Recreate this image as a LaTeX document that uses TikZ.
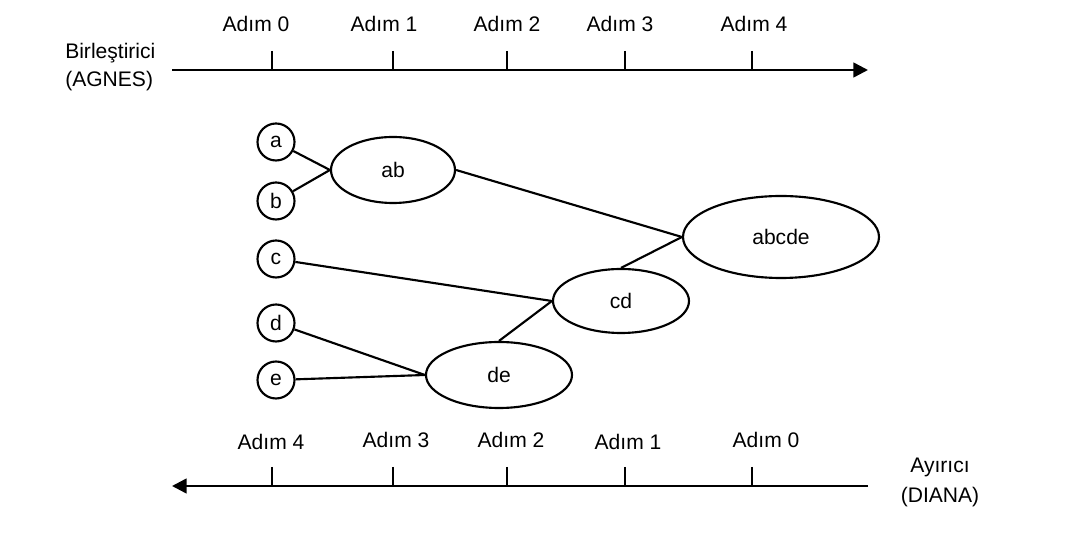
\documentclass[tikz,border=0pt]{standalone}
\usepackage{fontspec}
\setmainfont{Liberation Sans}
\usetikzlibrary{arrows.meta,shapes.geometric}

\begin{document}
\begin{tikzpicture}[x=0.75pt,y=-0.75pt,
  font=\fontsize{15.8}{19}\selectfont,
  leaf/.style={circle,draw,line width=1.6pt,minimum size=27.75pt,inner sep=0pt},
  cluster/.style={ellipse,draw,line width=1.6pt,inner sep=0pt},
  link/.style={line width=1.6pt},
  axisline/.style={line width=1.9pt},
  tickmark/.style={line width=1.3pt},
  steplabel/.style={inner sep=0pt,anchor=center}]

\useasboundingbox (0,0) rectangle (1075,548);

% agglomerative time line (AGNES)
\coordinate (agS) at (172,70);
\coordinate (agE) at (868,70);
\draw[axisline,-{Triangle[length=11pt,width=11pt]}] (agS) -- (agE);
\foreach \x in {272,393,507,625,752} \draw[tickmark] (\x,51) -- (\x,70);
\node[steplabel] (u0) at (256,24) {Adım 0};
\node[steplabel] (u1) at (384,24) {Adım 1};
\node[steplabel] (u2) at (507,24) {Adım 2};
\node[steplabel] (u3) at (620,24) {Adım 3};
\node[steplabel] (u4) at (754,24) {Adım 4};
\node[steplabel,anchor=west] (agn1) at (65,53) {Birleştirici};
\node[steplabel,anchor=west] (agn2) at (65,81) {(AGNES)};

% divisive time line (DIANA)
\coordinate (diS) at (868,486);
\coordinate (diE) at (172,486);
\draw[axisline,-{Triangle[length=11pt,width=11pt]}] (diS) -- (diE);
\foreach \x in {272,393,507,625,752} \draw[tickmark] (\x,467) -- (\x,486);
\node[steplabel] (l4) at (271,442) {Adım 4};
\node[steplabel] (l3) at (396,440) {Adım 3};
\node[steplabel] (l2) at (511,440) {Adım 2};
\node[steplabel] (l1) at (628,442) {Adım 1};
\node[steplabel] (l0) at (766,440) {Adım 0};
\node[steplabel] (dia1) at (940,467) {Ayırıcı};
\node[steplabel] (dia2) at (940,497) {(DIANA)};

% objects
\node[leaf] (a) at (276,142) {a};
\node[leaf] (b) at (276,201) {b};
\node[leaf] (c) at (276,259) {c};
\node[leaf] (d) at (276,323) {d};
\node[leaf] (e) at (276,380) {e};

% clusters
\node[cluster,minimum width=93pt,minimum height=49.5pt] (ab) at (393,170) {ab};
\node[cluster,minimum width=109.5pt,minimum height=49.5pt] (de) at (499,375) {de};
\node[cluster,minimum width=102pt,minimum height=48pt] (cd) at (621,301) {cd};
\node[cluster,minimum width=147pt,minimum height=61.5pt] (abcde) at (781,237) {abcde};

% merges
\draw[link] (a) -- (ab.west);
\draw[link] (b) -- (ab.west);
\draw[link] (c) -- (cd.west);
\draw[link] (d) -- (de.west);
\draw[link] (e) -- (de.west);
\draw[link] (de.north) -- (cd.west);
\draw[link] (ab.east) -- (abcde.west);
\draw[link] (cd.north) -- (abcde.west);
\end{tikzpicture}
\end{document}
